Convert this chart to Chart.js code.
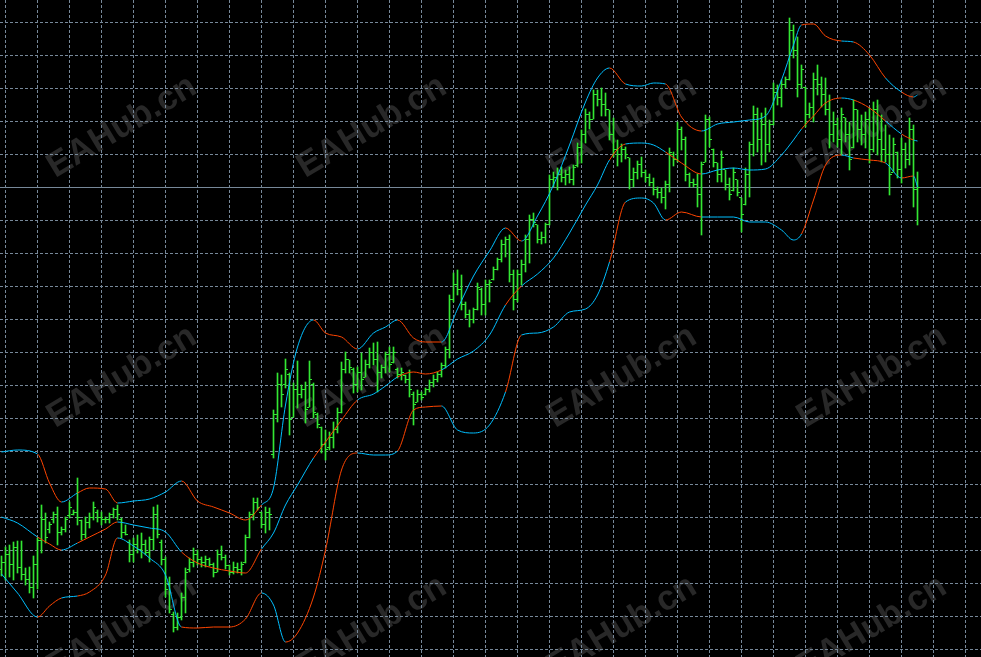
<!DOCTYPE html>
<html>
<head>
<meta charset="utf-8">
<script src="https://cdn.jsdelivr.net/npm/chart.js@4.4.1/dist/chart.umd.min.js"></script>
<style>
  html, body { margin: 0; padding: 0; background: #000; }
  canvas { display: block; }
</style>
</head>
<body>
<canvas id="grafico" width="981" height="657"></canvas>
<script>
// Barras OHLC (uma por indice de barra)
const highs = [
  1744.4,1745.3,1745.5,1745.8,1745.9,1745.9,1743.2,1743.3,1744.4,1746.2,
  1749.5,1748.7,1747.8,1748.8,1749.3,1747.3,1748.3,1749.8,1749.0,1752.2,
  1748.0,1748.3,1748.7,1749.8,1749.0,1748.8,1748.3,1748.7,1749.2,1749.5,
  1748.2,1747.5,1746.0,1746.2,1746.5,1746.7,1746.0,1746.3,1749.3,1749.5,
  1746.0,1744.3,1742.3,1738.8,1738.7,1740.7,1743.2,1744.2,1745.2,1745.0,
  1744.3,1744.4,1744.2,1743.7,1745.0,1745.4,1744.5,1743.5,1743.8,1743.7,
  1743.8,1746.5,1748.8,1750.2,1750.2,1748.8,1749.3,1749.2,1759.0,1762.7,
  1762.5,1764.1,1762.7,1761.7,1763.9,1761.5,1761.8,1763.9,1761.7,1758.7,
  1757.3,1757.0,1756.8,1757.8,1759.2,1763.8,1764.8,1764.0,1763.2,1763.3,
  1764.7,1764.0,1765.2,1765.7,1765.8,1763.5,1764.8,1765.3,1765.3,1763.2,
  1763.2,1762.5,1763.0,1760.8,1761.0,1760.8,1761.2,1762.0,1762.5,1762.8,
  1763.7,1765.3,1770.5,1772.7,1773.0,1772.5,1769.8,1769.0,1769.2,1771.7,
  1771.2,1772.0,1772.0,1773.3,1774.2,1776.0,1776.3,1776.5,1773.0,1773.0,
  1774.0,1776.5,1778.5,1778.7,1777.5,1776.8,1777.7,1782.5,1782.8,1783.2,
  1783.3,1783.0,1783.3,1783.5,1785.7,1787.0,1789.1,1788.8,1791.0,1791.0,
  1791.2,1790.7,1789.0,1788.2,1786.0,1785.6,1785.3,1784.2,1783.2,1783.9,
  1784.3,1783.0,1782.6,1782.2,1781.3,1781.2,1781.9,1785.2,1784.8,1787.8,
  1787.3,1786.3,1782.7,1782.1,1782.6,1783.8,1788.5,1788.3,1785.1,1783.7,
  1784.9,1783.0,1782.2,1783.2,1782.0,1780.2,1783.2,1785.8,1789.4,1789.2,
  1788.7,1789.2,1788.0,1791.7,1791.5,1792.0,1792.3,1798.2,1797.5,1796.3,
  1793.5,1791.3,1789.7,1792.7,1793.5,1792.3,1792.2,1790.5,1788.8,1788.2,
  1789.2,1788.2,1787.8,1790.0,1789.0,1788.5,1788.8,1789.2,1789.8,1790.0,
  1788.5,1787.5,1786.5,1786.2,1784.8,1786.2,1785.7,1788.2,1787.5,1782.8
];
const lows = [
  1742.4,1742.0,1742.3,1742.0,1742.7,1742.0,1741.5,1740.7,1740.2,1741.1,
  1744.7,1745.7,1746.7,1747.7,1745.5,1746.5,1746.8,1748.2,1748.5,1747.5,
  1746.0,1746.2,1747.2,1748.0,1747.8,1747.5,1747.7,1747.7,1748.2,1748.0,
  1746.2,1746.5,1743.8,1743.8,1744.7,1744.2,1744.5,1743.8,1745.0,1746.2,
  1743.5,1740.3,1738.7,1736.8,1737.0,1738.0,1738.7,1742.8,1743.3,1743.5,
  1743.3,1743.3,1743.4,1742.3,1742.8,1744.0,1743.1,1742.5,1742.6,1742.7,
  1742.5,1743.7,1746.2,1748.0,1749.0,1747.2,1746.7,1747.0,1754.2,1757.8,
  1759.3,1761.2,1756.5,1758.3,1759.2,1760.2,1757.7,1759.3,1758.2,1757.2,
  1754.7,1754.0,1755.0,1755.2,1756.7,1758.7,1762.7,1762.7,1760.7,1760.8,
  1761.0,1762.3,1763.2,1763.5,1760.8,1762.2,1762.7,1762.8,1763.7,1762.2,
  1762.0,1761.7,1760.3,1757.5,1759.8,1760.0,1760.5,1760.8,1761.3,1761.8,
  1762.3,1763.2,1764.2,1769.8,1770.5,1769.0,1768.2,1767.3,1767.7,1769.0,
  1768.5,1768.5,1769.8,1772.0,1773.0,1773.8,1774.3,1771.8,1769.0,1769.8,
  1771.5,1772.8,1773.7,1777.3,1775.7,1775.6,1775.7,1777.5,1781.3,1781.0,
  1781.8,1781.5,1781.7,1781.5,1783.3,1783.7,1785.7,1787.1,1788.1,1789.4,
  1788.4,1788.4,1786.0,1784.3,1783.4,1783.8,1784.1,1781.1,1781.3,1782.1,
  1782.3,1781.8,1781.4,1780.5,1780.2,1779.7,1779.1,1780.8,1783.4,1783.8,
  1785.0,1781.9,1781.3,1781.3,1779.3,1776.5,1783.8,1785.3,1783.3,1781.8,
  1781.8,1781.0,1780.0,1780.9,1780.4,1776.8,1779.5,1780.3,1784.4,1784.8,
  1783.5,1783.8,1784.8,1787.5,1789.5,1789.3,1791.2,1792.0,1794.2,1790.3,
  1791.2,1787.3,1788.2,1787.8,1790.5,1789.3,1788.5,1785.2,1785.8,1785.3,
  1784.5,1785.8,1783.0,1785.2,1785.8,1785.5,1785.2,1783.7,1784.8,1784.5,
  1783.8,1783.8,1780.5,1782.8,1782.2,1781.7,1783.2,1783.5,1779.3,1777.5
];
const opens = [
  1743.0,1743.8,1744.5,1743.5,1745.2,1743.3,1742.5,1742.0,1741.3,1743.5,
  1745.9,1748.0,1747.0,1748.0,1748.5,1746.8,1747.0,1748.4,1748.6,1748.8,
  1747.9,1746.6,1747.8,1748.2,1748.8,1748.2,1748.0,1748.1,1748.5,1749.0,
  1748.0,1746.8,1745.8,1744.5,1745.6,1745.0,1745.5,1744.8,1746.0,1748.5,
  1745.8,1744.0,1741.5,1738.5,1737.3,1738.2,1740.2,1743.0,1743.8,1744.5,
  1744.0,1743.8,1744.0,1743.6,1742.8,1744.5,1744.3,1743.4,1742.8,1743.2,
  1743.0,1743.7,1746.3,1748.5,1749.8,1748.8,1747.5,1748.8,1754.5,1758.5,
  1761.5,1761.5,1762.5,1758.3,1761.0,1760.5,1761.0,1759.3,1761.5,1758.5,
  1757.3,1755.5,1755.2,1756.2,1757.0,1758.8,1763.0,1764.0,1763.0,1761.5,
  1762.8,1762.3,1763.5,1764.8,1764.0,1762.8,1763.2,1764.5,1763.8,1763.0,
  1762.5,1762.4,1762.0,1760.5,1759.8,1760.6,1760.5,1761.0,1761.8,1762.0,
  1762.6,1763.4,1765.0,1770.0,1771.5,1771.0,1769.5,1768.5,1768.0,1769.0,
  1771.0,1769.5,1771.5,1772.0,1773.0,1774.0,1775.5,1776.0,1772.5,1770.0,
  1772.5,1773.5,1776.0,1778.0,1777.5,1776.0,1776.2,1777.5,1782.0,1782.2,
  1782.5,1782.2,1782.5,1782.0,1783.4,1785.2,1786.5,1788.5,1788.1,1790.5,
  1790.0,1789.5,1789.0,1786.5,1785.0,1784.5,1785.0,1784.2,1782.0,1782.8,
  1783.5,1782.8,1782.2,1781.8,1781.0,1780.8,1780.2,1781.5,1784.5,1784.0,
  1787.0,1786.0,1782.5,1781.8,1781.5,1780.5,1783.8,1788.0,1785.0,1783.7,
  1782.5,1783.0,1781.5,1780.9,1782.0,1780.2,1779.5,1782.5,1785.5,1788.5,
  1786.0,1787.5,1785.5,1787.5,1790.8,1790.2,1791.5,1792.0,1797.0,1795.0,
  1791.5,1791.3,1788.5,1789.2,1792.0,1791.5,1790.5,1789.0,1786.5,1787.5,
  1786.0,1788.2,1786.5,1785.2,1789.0,1787.0,1786.5,1788.0,1785.0,1789.0,
  1786.0,1785.0,1784.5,1782.8,1784.8,1783.0,1785.0,1784.0,1787.0,1781.0
];
const closes = [
  1743.8,1744.5,1743.5,1745.2,1743.3,1742.5,1742.0,1741.3,1743.5,1745.9,
  1748.0,1746.2,1747.5,1748.5,1746.8,1747.0,1748.0,1749.3,1748.8,1748.2,
  1746.6,1747.8,1748.2,1749.2,1748.2,1748.0,1748.1,1748.5,1749.0,1748.5,
  1746.8,1746.6,1744.5,1745.6,1745.0,1745.5,1744.8,1746.0,1748.5,1746.5,
  1744.0,1741.0,1739.0,1737.3,1738.2,1740.2,1742.8,1743.8,1744.5,1744.0,
  1743.8,1744.0,1743.6,1742.8,1744.5,1744.3,1743.4,1742.8,1743.2,1743.0,
  1743.6,1746.2,1748.5,1749.8,1749.3,1747.5,1748.8,1748.5,1758.5,1761.5,
  1760.5,1763.0,1758.0,1761.0,1760.5,1761.0,1759.0,1762.0,1758.8,1757.5,
  1755.5,1755.0,1756.2,1757.0,1758.8,1763.0,1764.0,1763.2,1761.5,1762.8,
  1762.0,1763.5,1764.8,1764.0,1762.8,1763.2,1764.5,1763.5,1764.8,1762.5,
  1762.8,1762.0,1761.0,1759.5,1760.6,1760.2,1761.0,1761.8,1762.0,1762.6,
  1763.4,1765.0,1770.0,1771.5,1771.0,1769.5,1768.5,1768.0,1769.0,1771.2,
  1769.5,1771.5,1771.8,1773.0,1774.0,1775.5,1776.0,1772.5,1770.0,1772.5,
  1773.5,1776.0,1778.0,1777.8,1776.0,1776.2,1777.5,1782.0,1782.2,1782.5,
  1782.2,1782.5,1782.0,1783.3,1785.2,1786.5,1788.5,1788.0,1790.5,1790.0,
  1789.5,1789.0,1786.5,1785.0,1784.5,1785.0,1784.5,1782.0,1782.8,1783.5,
  1782.8,1782.2,1781.8,1781.0,1780.8,1780.2,1781.5,1784.8,1784.0,1787.0,
  1786.0,1782.5,1781.8,1781.5,1780.5,1783.5,1788.0,1786.0,1783.8,1782.5,
  1784.2,1781.5,1780.5,1782.8,1780.8,1778.5,1782.5,1785.5,1788.5,1786.0,
  1787.5,1785.5,1787.5,1790.8,1790.2,1791.5,1792.0,1797.0,1795.0,1791.5,
  1793.0,1788.5,1789.2,1792.0,1791.5,1790.5,1789.0,1786.5,1787.5,1786.0,
  1788.5,1786.5,1784.0,1789.0,1787.0,1786.5,1788.0,1785.0,1789.0,1786.0,
  1785.0,1784.5,1782.5,1785.5,1783.0,1785.0,1784.0,1787.0,1781.0,1781.25
];

// Bandas: lidas nestes indices de barra
const bandBars = [
  0,4,9,12,15,19,22,26,29,33,
  37,41,45,49,53,57,61,65,68,71,
  74,78,81,85,89,93,96,99,103,106,
  110,114,118,122,126,130,134,138,142,146,
  149,152,156,160,163,166,170,175,179,183,
  187,191,195,198,200,203,206,210,213,217,
  221,225,228,229
];
const upperBand = [
  1754.8,1755.0,1754.6,1751.7,1749.8,1750.7,1751.2,1751.1,1749.7,1749.9,
  1750.1,1750.8,1751.9,1749.9,1749.3,1748.7,1748.0,1749.5,1751.2,1759.5,
  1765.3,1768.0,1766.7,1766.3,1765.1,1766.7,1767.3,1768.0,1766.2,1765.8,
  1765.8,1769.1,1772.4,1774.9,1777.2,1775.9,1778.4,1781.5,1785.5,1789.8,
  1792.2,1793.2,1791.6,1791.4,1791.7,1791.6,1788.3,1786.9,1787.6,1787.8,
  1788.0,1788.4,1792.0,1795.5,1797.5,1797.6,1796.4,1795.9,1795.8,1794.5,
  1792.2,1790.8,1790.3,1790.5
];
const middleBand = [
  1748.3,1747.7,1746.3,1745.6,1745.0,1745.7,1746.3,1747.1,1747.8,1747.5,
  1747.2,1746.8,1744.8,1743.7,1743.2,1742.9,1742.7,1745.1,1746.7,1749.5,
  1751.5,1754.2,1755.8,1758.0,1760.0,1760.6,1761.4,1762.3,1762.8,1762.6,
  1763.0,1764.1,1764.9,1766.5,1769.5,1771.4,1772.6,1774.2,1776.7,1779.5,
  1781.5,1784.0,1785.6,1785.7,1785.5,1784.8,1783.7,1782.6,1783.0,1783.2,
  1783.0,1783.1,1784.5,1786.0,1787.1,1788.4,1789.7,1790.2,1790.0,1789.2,
  1787.9,1786.6,1786.0,1785.9
];
const lowerBand = [
  1742.6,1740.7,1738.3,1739.4,1740.2,1740.4,1740.8,1742.5,1746.2,1745.4,
  1744.2,1742.5,1737.3,1737.2,1737.3,1737.3,1738.1,1740.7,1739.5,1735.8,
  1736.7,1740.3,1745.0,1753.0,1754.7,1754.5,1754.5,1754.9,1759.0,1759.3,
  1759.4,1757.0,1756.7,1757.5,1760.8,1766.5,1766.7,1767.3,1768.8,1769.1,
  1770.5,1773.8,1779.8,1780.2,1779.7,1778.0,1778.8,1778.3,1778.3,1778.3,
  1777.8,1777.8,1777.0,1776.0,1776.6,1780.0,1783.5,1784.5,1784.2,1784.0,
  1783.7,1782.2,1782.4,1781.3
];
// 1 = trecho azul, 0 = trecho laranja (vale do ponto ate o seguinte)
const upperBlue = [
  1,1,0,0,1,0,0,0,1,1, 1,1,0,0,0,0,0,1,1,1,
  1,0,0,0,1,1,1,0,0,0, 1,1,1,1,0,1,1,1,1,1,
  1,0,1,1,1,0,0,1,1,1, 1,1,1,1,0,0,0,1,0,0,
  1,0,1,1
];
const middleBlue = [
  1,1,0,0,1,0,0,0,1,1, 1,1,0,0,0,0,0,1,1,1,
  1,0,0,0,1,1,1,0,0,0, 1,1,1,1,0,1,1,1,1,1,
  1,0,1,1,1,0,0,1,1,1, 1,1,1,1,0,0,0,1,0,0,
  1,0,1,1
];
const lowerBlue = [
  1,1,0,0,1,0,0,0,1,1, 1,1,0,0,0,0,0,1,1,0,
  0,0,0,0,1,1,1,0,0,0, 1,1,1,1,0,1,1,1,1,1,
  1,0,1,1,1,0,0,1,1,1, 1,1,1,1,0,0,0,1,0,0,
  1,0,1,1
];

const AZUL = '#00bfff';
const LARANJA = '#ff4500';
const VERDE = '#33e633';
const GRADE = '#778899';

// linhas da grade: a cada 8 barras e a cada 3.3 pontos
const gradeX = [];
for (let b = 1; b < 245; b += 8) gradeX.push(b);
const gradeY = [];
for (let k = 0; k < 20; k++) gradeY.push(1797.78 - 3.3 * k);

const ultimo = closes[closes.length - 1];

// fundo preto e marca d'agua
const fundo = {
  id: 'fundo',
  beforeDraw(chart) {
    const ctx = chart.ctx;
    ctx.save();
    ctx.fillStyle = '#000';
    ctx.fillRect(0, 0, chart.width, chart.height);
    ctx.font = 'bold 35px "Liberation Sans", Arial, sans-serif';
    ctx.fillStyle = '#282828';
    ctx.textAlign = 'center';
    ctx.textBaseline = 'middle';
    for (let i = 0; i < 4; i++) {
      for (let j = 0; j < 3; j++) {
        ctx.save();
        ctx.translate(122 + 250 * i, 127 + 250 * j);
        ctx.rotate(-31 * Math.PI / 180);
        ctx.fillText('EAHub.cn', 0, 0);
        ctx.restore();
      }
    }
    ctx.restore();
  }
};

// tracos de abertura (esquerda) e fechamento (direita)
const tracos = {
  id: 'tracos',
  afterDatasetDraw(chart, args) {
    if (args.index !== 1) return;
    const {ctx, scales: {x, y}} = chart;
    ctx.save();
    ctx.fillStyle = VERDE;
    for (let i = 0; i < opens.length; i++) {
      const px = Math.floor(x.getPixelForValue(i));
      ctx.fillRect(px - 2, Math.floor(y.getPixelForValue(opens[i])), 2, 1);
      ctx.fillRect(px + 1, Math.floor(y.getPixelForValue(closes[i])), 2, 1);
    }
    ctx.restore();
  }
};

function banda(valores, azul, nome) {
  return {
    type: 'line',
    label: nome,
    data: bandBars.map((b, j) => ({x: b, y: valores[j]})),
    borderWidth: 1,
    borderColor: AZUL,
    pointRadius: 0,
    cubicInterpolationMode: 'monotone',
    segment: {
      borderColor: c => azul[c.p0DataIndex] ? AZUL : LARANJA
    },
    order: 1
  };
}

function eixo(min, max, marcas) {
  return {
    type: 'linear',
    min: min,
    max: max,
    offset: false,
    grid: {color: GRADE, lineWidth: 1, drawTicks: false, offset: false},
    border: {display: false, dash: [3, 2]},
    ticks: {display: false},
    afterBuildTicks: s => { s.ticks = marcas.map(v => ({value: v})); }
  };
}

new Chart(document.getElementById('grafico'), {
  type: 'bar',
  data: {
    datasets: [
      {
        type: 'line',
        label: 'bid',
        data: [{x: -0.375, y: ultimo}, {x: 244.875, y: ultimo}],
        borderColor: GRADE,
        borderWidth: 1,
        pointRadius: 0,
        order: 5
      },
      {
        type: 'bar',
        label: 'barras',
        data: highs.map((h, i) => ({x: i, y: [lows[i], h]})),
        backgroundColor: VERDE,
        borderWidth: 0,
        barThickness: 1,
        order: 3
      },
      banda(upperBand, upperBlue, 'superior'),
      banda(middleBand, middleBlue, 'media'),
      banda(lowerBand, lowerBlue, 'inferior')
    ]
  },
  options: {
    responsive: false,
    animation: false,
    devicePixelRatio: 1,
    layout: {padding: 0},
    plugins: {legend: {display: false}, tooltip: {enabled: false}},
    scales: {
      x: eixo(-0.375, 244.875, gradeX),
      y: eixo(1734.3, 1800, gradeY)
    }
  },
  plugins: [fundo, tracos]
});
</script>
</body>
</html>
